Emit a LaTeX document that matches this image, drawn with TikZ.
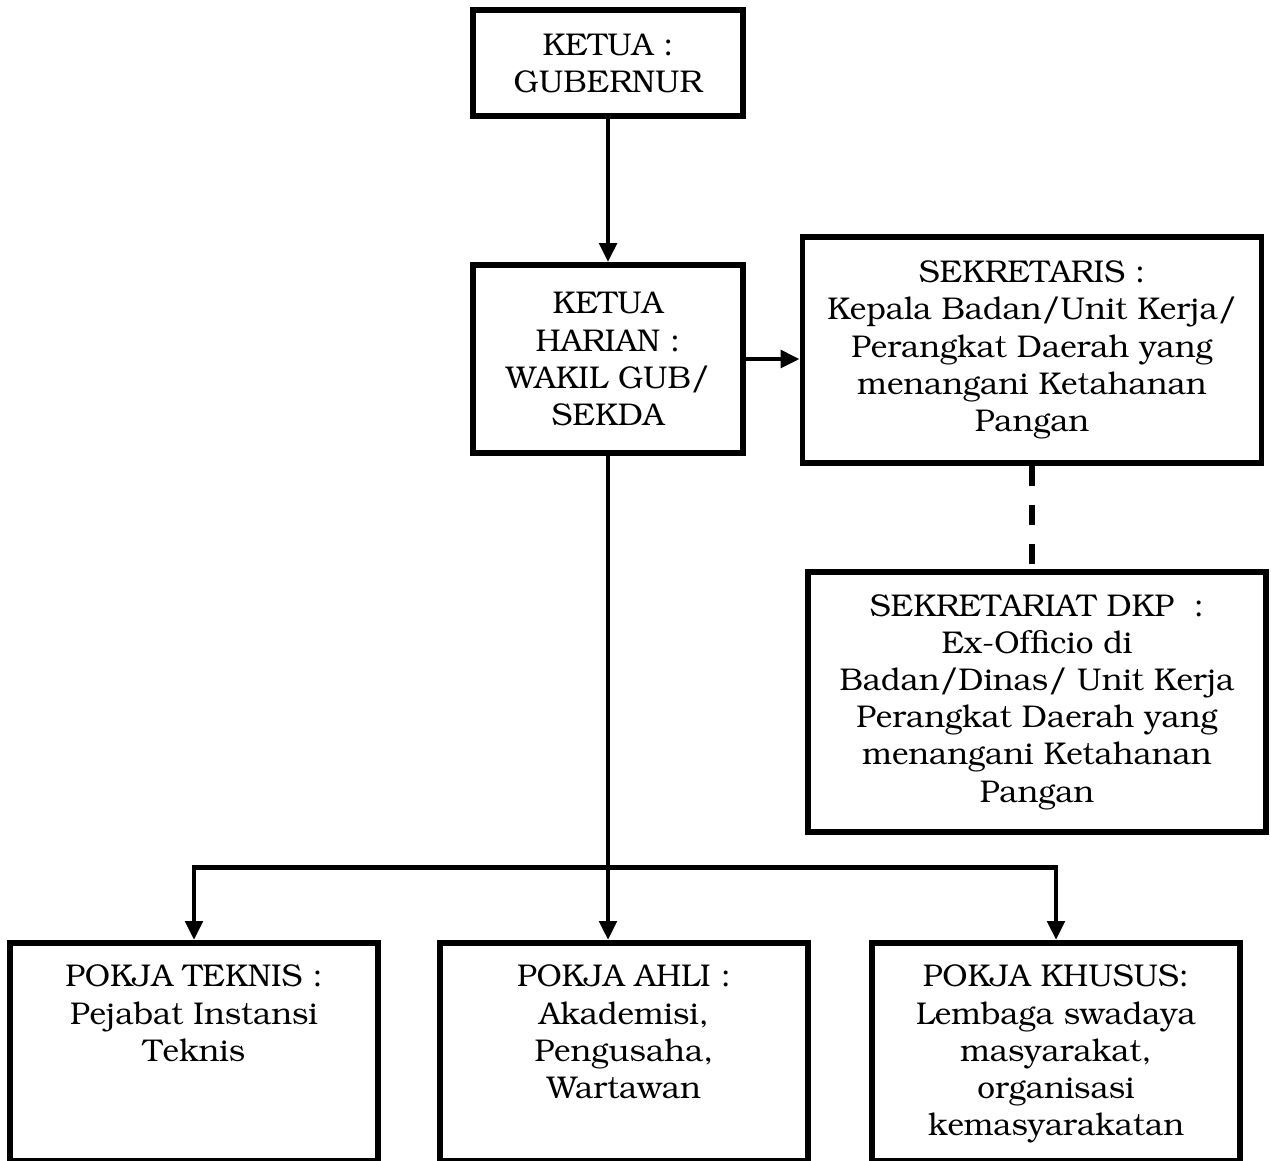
\documentclass[tikz,border=0pt]{standalone}
\usepackage[T1]{fontenc}
\usepackage{bookman}
\usepackage{tikz}
\usetikzlibrary{arrows.meta, positioning, calc}
\definecolor{mydark}{RGB}{0,0,0}
\newcommand{\toptext}[1]{\parbox[c][3.48cm][t]{7.2cm}{\centering #1}}
\tikzset{
  block/.style={rectangle, draw=mydark, fill=white, align=center,
    line width=3.2pt, inner sep=0pt,
    font=\fontsize{17.9}{21.2}\selectfont},
  pokja/.style={block, minimum width=7.36cm, minimum height=4.36cm},
  arrow/.style={-{Triangle[length=0.38cm, width=0.34cm]}, line width=2.7pt, color=mydark},
  line/.style={line width=2.7pt, color=mydark},
  dashline/.style={line width=3pt, color=mydark, dash pattern=on 0.4cm off 0.38cm}
}
\begin{document}
\begin{tikzpicture}[x=0.02cm, y=-0.02cm]
  \useasboundingbox (0,0) rectangle (1271,1160);

  % Pimpinan
  \node[block, minimum width=5.4cm, minimum height=2.12cm] (ketua) at (608,63)
    {KETUA :\\GUBERNUR};
  \node[block, minimum width=5.4cm, minimum height=3.76cm] (harian) at (608,359)
    {KETUA\\HARIAN :\\WAKIL GUB/\\SEKDA};

  % Sekretaris dan sekretariat
  \node[block, minimum width=9.18cm, minimum height=4.52cm] (sekretaris) at (1032,350)
    {SEKRETARIS :\\Kepala Badan/Unit Kerja/\\Perangkat Daerah yang\\menangani Ketahanan\\Pangan};
  \node[block, minimum width=9.16cm, minimum height=5.2cm] (sekretariat) at (1037,702)
    {SEKRETARIAT DKP\ \ :\\Ex-Officio di\\Badan/Dinas/ Unit Kerja\\Perangkat Daerah yang\\menangani Ketahanan\\Pangan};

  % Kelompok kerja
  \node[pokja, anchor=north] (teknis) at (194,940)
    {\toptext{POKJA TEKNIS :\\Pejabat Instansi\\Teknis}};
  \node[pokja, anchor=north] (ahli) at (624,940)
    {\toptext{POKJA AHLI :\\Akademisi,\\Pengusaha,\\Wartawan}};
  \node[pokja, anchor=north] (khusus) at (1056,940)
    {\toptext{POKJA KHUSUS:\\Lembaga swadaya\\masyarakat,\\organisasi\\kemasyarakatan}};

  % Garis komando
  \coordinate (split) at ($(harian.south)+(0,412)$);
  \draw[arrow] (ketua) -- (harian);
  \draw[arrow] (harian.east) -- (sekretaris.west |- harian.east);
  \draw[dashline] (sekretaris.south -| 1032,0) -- (sekretariat.north -| 1032,0);
  \draw[line] (harian) -- (split);
  \draw[arrow] (split) -| (teknis.north);
  \draw[arrow] (split) -| (khusus.north);
  \draw[arrow] (split) -- (split |- ahli.north);
\end{tikzpicture}
\end{document}
